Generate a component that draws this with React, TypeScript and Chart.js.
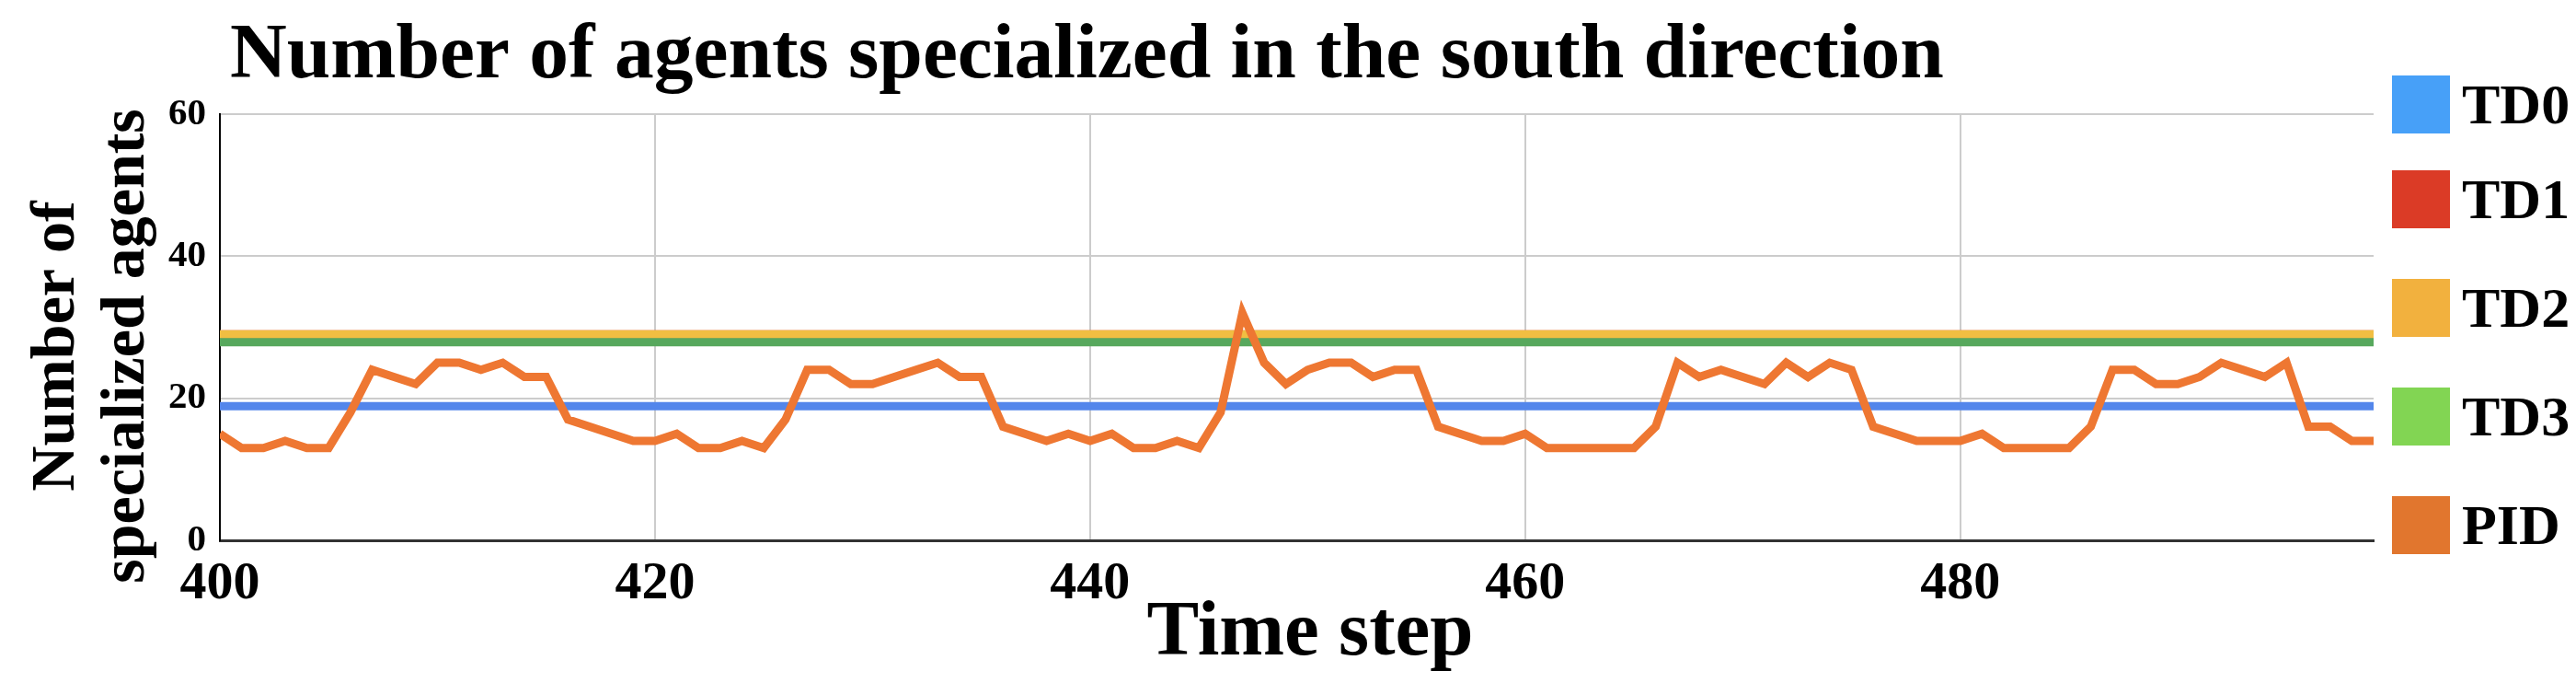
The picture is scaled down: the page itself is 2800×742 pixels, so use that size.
import React, { useEffect, useRef } from 'react';
import { Chart, registerables } from 'chart.js';

Chart.register(...registerables);

const FONT = "'Liberation Serif', 'Times New Roman', serif";

const TITLE = 'Number of agents specialized in the south direction';
const X_TITLE = 'Time step';
const Y_TITLE = ['Number of', 'specialized agents'];

const FIRST_STEP = 400;
const LAST_STEP = 499;
const STEPS = Array.from({ length: LAST_STEP - FIRST_STEP + 1 }, (_, i) => FIRST_STEP + i);

const X_TICKS = [400, 420, 440, 460, 480];
const Y_TICKS = [0, 20, 40, 60];

const SERIES_NAMES = ['TD0', 'TD1', 'TD2', 'TD3', 'PID'];

// constant levels of the TD baselines
const TD0_LEVEL = 18.9;
const TD1_LEVEL = 29;
const TD2_LEVEL = 29;
const TD3_LEVEL = 27.9;

// PID value at each time step 400..499
const PID_VALUES = [
  15, 13, 13, 14, 13, 13, 18, 24, 23, 22,
  25, 25, 24, 25, 23, 23, 17, 16, 15, 14,
  14, 15, 13, 13, 14, 13, 17, 24, 24, 22,
  22, 23, 24, 25, 23, 23, 16, 15, 14, 15,
  14, 15, 13, 13, 14, 13, 18, 32, 25, 22,
  24, 25, 25, 23, 24, 24, 16, 15, 14, 14,
  15, 13, 13, 13, 13, 13, 16, 25, 23, 24,
  23, 22, 25, 23, 25, 24, 16, 15, 14, 14,
  14, 15, 13, 13, 13, 13, 16, 24, 24, 22,
  22, 23, 25, 24, 23, 25, 16, 16, 14, 14,
];

const LINE_COLORS = ['#5386EB', '#DB3B26', '#F1BE42', '#57A85D', '#EE7732'];
const LEGEND_COLORS = ['#47A0F8', '#DB3B26', '#F2B13E', '#82D553', '#E1762E'];

const overlayPlugin = {
  id: 'overlay',
  afterDraw(chart: any) {
    const ctx = chart.ctx as CanvasRenderingContext2D;
    ctx.save();
    ctx.fillStyle = '#000';
    ctx.textAlign = 'left';
    ctx.textBaseline = 'alphabetic';

    // chart title
    ctx.font = `bold 85.5px ${FONT}`;
    ctx.fillText(TITLE, 250, 84);

    // x axis title
    ctx.textAlign = 'center';
    ctx.font = `bold 85px ${FONT}`;
    ctx.fillText(X_TITLE, 1424, 711);

    // y axis title (two lines, rotated)
    ctx.save();
    ctx.translate(0, 376);
    ctx.rotate(-Math.PI / 2);
    ctx.font = `bold 68px ${FONT}`;
    ctx.fillText(Y_TITLE[0], 0, 80);
    ctx.fillText(Y_TITLE[1], 0, 156);
    ctx.restore();

    // legend
    ctx.textAlign = 'left';
    const tops = [82, 185, 303, 421, 539];
    const box = 63;
    const fs = 62;
    chart.data.datasets.forEach((ds: any, i: number) => {
      const top = tops[i];
      ctx.fillStyle = LEGEND_COLORS[i];
      ctx.fillRect(2600, top, box, box);
      ctx.fillStyle = '#000';
      ctx.font = `bold ${fs}px ${FONT}`;
      ctx.fillText(ds.label, 2676, top + box / 2 + 0.331 * fs);
    });
    ctx.restore();
  },
};

function flat(level: number) {
  return [
    { x: FIRST_STEP, y: level },
    { x: LAST_STEP, y: level },
  ];
}

export default function App() {
  const ref = useRef<HTMLCanvasElement>(null);

  useEffect(() => {
    const levels = [TD0_LEVEL, TD1_LEVEL, TD2_LEVEL, TD3_LEVEL];
    const orders = [1, 4, 3, 2];
    const datasets: any[] = levels.map((lv, i) => ({
      label: SERIES_NAMES[i],
      data: flat(lv),
      borderColor: LINE_COLORS[i],
      backgroundColor: LEGEND_COLORS[i],
      borderWidth: 9,
      pointRadius: 0,
      tension: 0,
      order: orders[i],
    }));
    datasets.push({
      label: SERIES_NAMES[4],
      data: STEPS.map((s, i) => ({ x: s, y: PID_VALUES[i] })),
      borderColor: LINE_COLORS[4],
      backgroundColor: LEGEND_COLORS[4],
      borderWidth: 9,
      pointRadius: 0,
      tension: 0,
      borderJoinStyle: 'miter',
      order: 0,
    });

    const chart = new Chart(ref.current!, {
      type: 'line',
      data: { datasets },
      plugins: [overlayPlugin],
      options: {
        responsive: false,
        animation: false,
        devicePixelRatio: 1,
        layout: { padding: { top: 124, right: 220, bottom: 0, left: 0 } },
        plugins: {
          legend: { display: false },
          title: { display: false },
          tooltip: { enabled: false },
        },
        scales: {
          x: {
            type: 'linear',
            min: FIRST_STEP,
            max: LAST_STEP,
            afterFit: (scale: any) => {
              scale.height = 155;
            },
            afterBuildTicks: (scale: any) => {
              scale.ticks = X_TICKS.map((v) => ({ value: v }));
            },
            ticks: {
              color: '#000',
              padding: 13,
              maxRotation: 0,
              autoSkip: false,
              font: { family: FONT, size: 58, weight: 'bold' },
              callback: (v: any) => String(v),
            },
            grid: { color: '#CCCCCC', lineWidth: 2, drawTicks: false },
            border: { display: true, color: '#333333', width: 3 },
            title: { display: false, text: X_TITLE },
          },
          y: {
            type: 'linear',
            min: 0,
            max: 60,
            afterFit: (scale: any) => {
              scale.width = 239;
            },
            afterBuildTicks: (scale: any) => {
              scale.ticks = Y_TICKS.map((v) => ({ value: v }));
            },
            ticks: {
              color: '#000',
              padding: 15,
              font: { family: FONT, size: 41, weight: 'bold' },
              callback: (v: any) => String(v),
            },
            grid: { color: '#CCCCCC', lineWidth: 2, drawTicks: false },
            border: { display: true, color: '#000000', width: 2 },
            title: { display: false, text: Y_TITLE },
          },
        },
      } as any,
    });
    return () => chart.destroy();
  }, []);

  return (
    <div style={{ position: 'fixed', left: 0, top: 0, width: 2800, height: 742, background: '#fff' }}>
      <canvas ref={ref} width={2800} height={742} style={{ display: 'block', width: 2800, height: 742 }} />
    </div>
  );
}
